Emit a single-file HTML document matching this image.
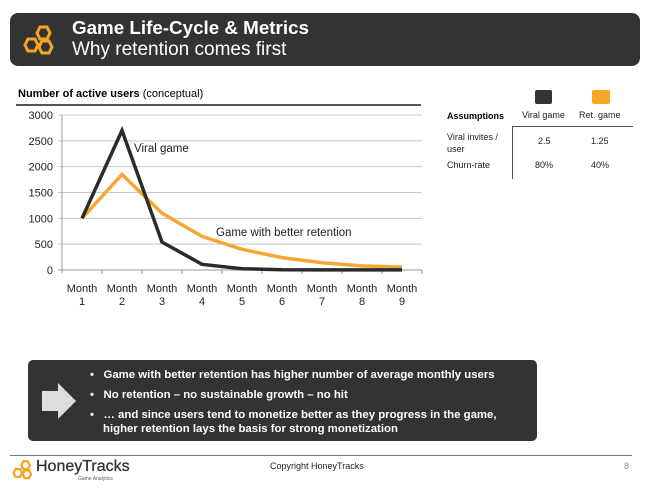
<!DOCTYPE html>
<html><head><meta charset="utf-8"><style>
body{margin:0;width:650px;height:494px;background:#fff;font-family:"Liberation Sans",sans-serif;position:relative;overflow:hidden}
.abs{position:absolute}
</style></head><body>
<div class="abs" style="left:10px;top:13px;width:630px;height:53px;background:#333;border-radius:8px"></div>
<svg class="abs" style="left:18px;top:24px" width="40" height="36" viewBox="0 0 40 36">
<g fill="none" stroke="#f5a623" stroke-width="3"><polygon points="22,3 29,3 32,9 29,15 22,15 19,9"/><polygon points="10,15 17,15 20,21 17,27 10,27 7,21"/><polygon points="24,17 31,17 34,23 31,29 24,29 21,23"/></g></svg>
<div class="abs" style="left:72px;top:17px;color:#fff;font-weight:bold;font-size:18.8px">Game Life-Cycle &amp; Metrics</div>
<div class="abs" style="left:72px;top:39px;color:#fff;font-size:19px">Why retention comes first</div>
<div class="abs" style="left:18px;top:88px;font-size:11px;color:#000"><b>Number of active users</b> (conceptual)</div>
<div class="abs" style="left:16px;top:104px;width:405px;height:2px;background:#555"></div>
<svg id="chart" class="abs" style="left:0;top:0" width="650" height="494"></svg>
<div class="abs" style="left:535px;top:90px;width:17px;height:14px;background:#333;border-radius:2px"></div>
<div class="abs" style="left:592px;top:90px;width:18px;height:14px;background:#f5a623;border-radius:2px"></div>
<div class="abs" style="left:447px;top:111px;font-size:9px;font-weight:bold">Assumptions</div>
<div class="abs" style="left:522px;top:110px;font-size:9px;color:#222">Viral game</div>
<div class="abs" style="left:579px;top:110px;font-size:9px;color:#222">Ret. game</div>
<div class="abs" style="left:512px;top:126px;width:121px;height:1px;background:#555"></div>
<div class="abs" style="left:512px;top:126px;width:1px;height:53px;background:#555"></div>
<div class="abs" style="left:447px;top:131px;font-size:9px;line-height:12px;color:#222">Viral invites /<br>user</div>
<div class="abs" style="left:538px;top:136px;font-size:9px;color:#222">2.5</div>
<div class="abs" style="left:591px;top:136px;font-size:9px;color:#222">1.25</div>
<div class="abs" style="left:447px;top:160px;font-size:9px;color:#222">Churn-rate</div>
<div class="abs" style="left:535px;top:160px;font-size:9px;color:#222">80%</div>
<div class="abs" style="left:591px;top:160px;font-size:9px;color:#222">40%</div>
<div class="abs" style="left:28px;top:360px;width:509px;height:81px;background:#333;border-radius:5px"></div>
<svg class="abs" style="left:40px;top:382px" width="38" height="38"><polygon points="2,9 18,9 18,1 36,19 18,37 18,29 2,29" fill="#ddd"/></svg>
<div class="abs" style="left:90px;top:368px;color:#fff;font-weight:bold;font-size:11.4px;line-height:14px">
<div style="margin-bottom:6px">•&nbsp;&nbsp;&nbsp;Game with better retention has higher number of average monthly users</div>
<div style="margin-bottom:6px">•&nbsp;&nbsp;&nbsp;No retention – no sustainable growth – no hit</div>
<div>•&nbsp;&nbsp;&nbsp;… and since users tend to monetize better as they progress in the game,<br><span style="padding-left:13px">higher retention lays the basis for strong monetization</span></div>
</div>
<div class="abs" style="left:10px;top:455px;width:622px;height:1px;background:#777"></div>
<svg class="abs" style="left:9px;top:459px" width="26" height="24" viewBox="0 0 40 36"><g fill="none" stroke="#f5a623" stroke-width="3.5"><polygon points="22,3 29,3 32,9 29,15 22,15 19,9"/><polygon points="10,15 17,15 20,21 17,27 10,27 7,21"/><polygon points="24,17 31,17 34,23 31,29 24,29 21,23"/></g></svg>
<div class="abs" style="left:36px;top:458px;font-size:16px;color:#333;-webkit-text-stroke:0.3px #333">HoneyTracks</div>
<div class="abs" style="left:78px;top:476px;font-size:5px;color:#555">Game Analytics</div>
<div class="abs" style="left:270px;top:461px;font-size:9px;color:#222">Copyright HoneyTracks</div>
<div class="abs" style="left:624px;top:461px;font-size:9px;color:#888">8</div>
<script>
const categories=["1","2","3","4","5","6","7","8","9"];
const viralValues=[1000,2700,540,110,25,5,3,2,2];
const retentionValues=[1000,1850,1100,650,400,240,140,80,55];
const yTicks=[0,500,1000,1500,2000,2500,3000];
const svg=document.getElementById('chart');
const NS='http://www.w3.org/2000/svg';
const x0=62,x1=422,yBase=270,yTop=115,yMax=3000;
const step=(x1-x0)/categories.length;
const xs=i=>x0+step*(i+0.5);
const ys=v=>yBase-(v/yMax)*(yBase-yTop);
function mk(tag,attrs){const e=document.createElementNS(NS,tag);for(const k in attrs)e.setAttribute(k,attrs[k]);svg.appendChild(e);return e;}
yTicks.forEach(t=>{
 const g=mk('line',{x1:x0-4,x2:x1,y1:ys(t),y2:ys(t),stroke:t===0?'#999':'#c8c8c8','stroke-width':1});
 
 
 const l=mk('text',{x:x0-9,y:ys(t)+4,'text-anchor':'end','font-size':11,fill:'#222','font-family':'Liberation Sans, sans-serif'});
 l.textContent=t;
 
 
});
const ax=mk('line',{x1:x0,x2:x0,y1:yTop,y2:yBase+3,stroke:'#999'});


categories.forEach((c,i)=>{
 const tk=mk('line',{x1:x0+step*(i+1),x2:x0+step*(i+1),y1:yBase,y2:yBase+4,stroke:'#999'});
 
 
 const t=mk('text',{x:xs(i),y:yBase+22,'text-anchor':'middle','font-size':11,fill:'#222','font-family':'Liberation Sans, sans-serif'});
 
 
 const a=document.createElementNS(NS,'tspan');a.setAttribute('x',xs(i));a.textContent='Month';t.appendChild(a);
 const b=document.createElementNS(NS,'tspan');b.setAttribute('x',xs(i));b.setAttribute('dy','13');b.textContent=c;t.appendChild(b);
});
function line(vals,color,name){
 const p=mk('polyline',{points:vals.map((v,i)=>xs(i)+','+ys(v)).join(' '),fill:'none',stroke:color,'stroke-width':3.5,'stroke-linejoin':'miter'});
 
 
}
line(retentionValues,'#f5a633','retention-series-line');
line(viralValues,'#2b2b2b','viral-series-line');
const l1=mk('text',{x:134,y:152,'font-size':11.5,fill:'#222','font-family':'Liberation Sans, sans-serif'});l1.textContent='Viral game';


const l2=mk('text',{x:216,y:236,'font-size':11.5,fill:'#222','font-family':'Liberation Sans, sans-serif'});l2.textContent='Game with better retention';


</script>
</body></html>
